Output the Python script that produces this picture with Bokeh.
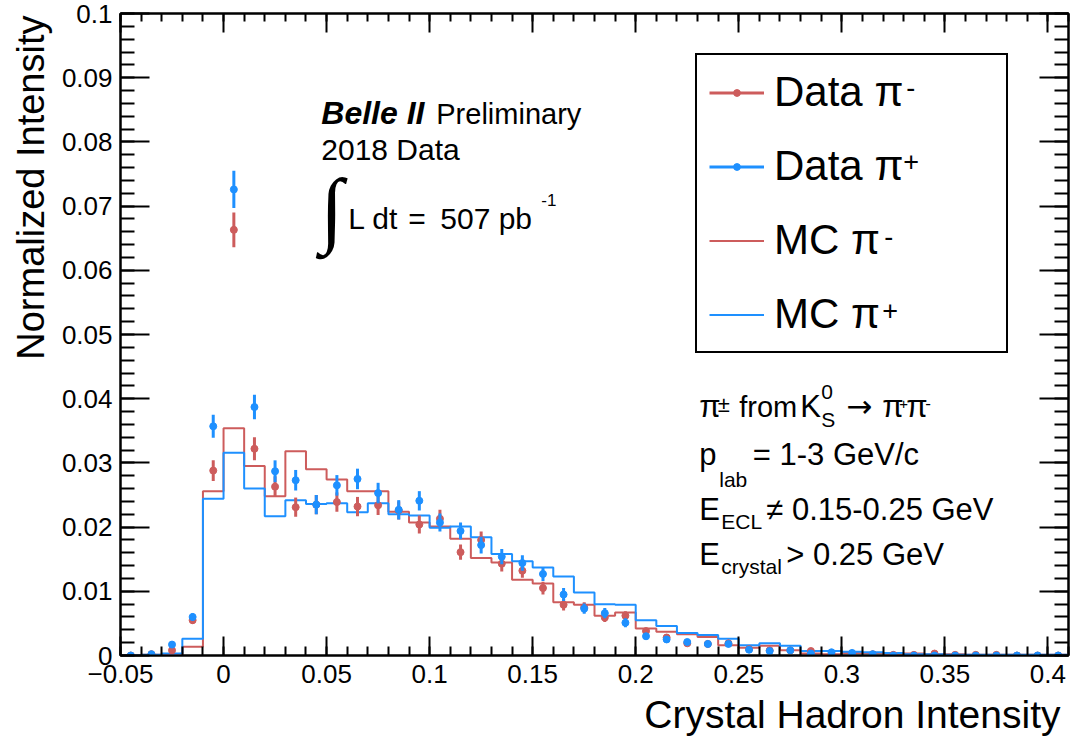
import math
import numpy as np
from bokeh.plotting import figure
from bokeh.models import (ColumnDataSource, FixedTicker, CustomJSTickFormatter,
                          LinearAxis, Label, Legend, LegendItem, Title)
from bokeh.core.properties import value
from bokeh.embed import file_html
from bokeh.resources import INLINE

# ---------------- data ----------------
bin_centers = [-0.045, -0.035, -0.025, -0.015, -0.005, 0.005, 0.015, 0.025, 0.035, 0.045,
               0.055, 0.065, 0.075, 0.085, 0.095, 0.105, 0.115, 0.125, 0.135, 0.145,
               0.155, 0.165, 0.175, 0.185, 0.195, 0.205, 0.215, 0.225, 0.235, 0.245,
               0.255, 0.265, 0.275, 0.285, 0.295, 0.305, 0.315, 0.325, 0.335, 0.345,
               0.355, 0.365, 0.375, 0.385, 0.395, 0.405]
bin_width = 0.01

data_pim = [0.0000, 0.0002, 0.0008, 0.0055, 0.0288, 0.0663, 0.0322, 0.0263, 0.0231, 0.0235,
            0.0239, 0.0232, 0.0234, 0.0226, 0.0204, 0.0213, 0.0161, 0.0180, 0.0143, 0.0132,
            0.0105, 0.0079, 0.0075, 0.0059, 0.0062, 0.0038, 0.0028, 0.0019, 0.0018, 0.0019,
            0.0010, 0.0008, 0.0008, 0.0007, 0.0002, 0.0003, 0.0002, 0.0001, 0.0001, 0.0003,
            0.0001, 0.0001, 0.0001, 0.0000, 0.0000, 0.0000]
data_pim_err = [0.0000, 0.0001, 0.0003, 0.0006, 0.0016, 0.0027, 0.0018, 0.0016, 0.0015, 0.0015,
                0.0015, 0.0015, 0.0015, 0.0014, 0.0014, 0.0014, 0.0012, 0.0013, 0.0012, 0.0011,
                0.0010, 0.0009, 0.0008, 0.0007, 0.0007, 0.0005, 0.0005, 0.0004, 0.0004, 0.0004,
                0.0003, 0.0003, 0.0003, 0.0002, 0.0001, 0.0002, 0.0001, 0.0001, 0.0001, 0.0002,
                0.0001, 0.0001, 0.0001, 0.0000, 0.0000, 0.0000]

data_pip = [0.0000, 0.0002, 0.0017, 0.0060, 0.0357, 0.0726, 0.0387, 0.0287, 0.0273, 0.0235,
            0.0265, 0.0275, 0.0253, 0.0227, 0.0241, 0.0207, 0.0194, 0.0172, 0.0154, 0.0144,
            0.0127, 0.0095, 0.0073, 0.0066, 0.0051, 0.0030, 0.0025, 0.0021, 0.0018, 0.0018,
            0.0009, 0.0007, 0.0008, 0.0003, 0.0005, 0.0004, 0.0002, 0.0000, 0.0000, 0.0000,
            0.0000, 0.0000, 0.0000, 0.0000, 0.0000, 0.0000]
data_pip_err = [0.0000, 0.0001, 0.0003, 0.0006, 0.0018, 0.0029, 0.0019, 0.0017, 0.0016, 0.0015,
                0.0016, 0.0016, 0.0016, 0.0015, 0.0015, 0.0014, 0.0013, 0.0013, 0.0012, 0.0012,
                0.0011, 0.0010, 0.0008, 0.0008, 0.0007, 0.0005, 0.0005, 0.0004, 0.0004, 0.0004,
                0.0003, 0.0003, 0.0003, 0.0002, 0.0002, 0.0002, 0.0001, 0.0000, 0.0000, 0.0000,
                0.0000, 0.0000, 0.0000, 0.0000, 0.0000, 0.0000]

mc_pim = [0.0000, 0.0001, 0.0002, 0.00135, 0.0256, 0.0354, 0.0295, 0.0248, 0.0318, 0.0290,
          0.0274, 0.0256, 0.0256, 0.0224, 0.0207, 0.0201, 0.0182, 0.0152, 0.0145, 0.0118,
          0.0112, 0.0083, 0.0079, 0.0062, 0.0067, 0.0042, 0.0037, 0.0033, 0.0029, 0.0016,
          0.0012, 0.0015, 0.0008, 0.0003, 0.0002, 0.0004, 0.0004, 0.0003, 0.0003, 0.0002,
          0.0002, 0.0001, 0.0001, 0.0001, 0.0001, 0.0001]
mc_pip = [0.0000, 0.0001, 0.0003, 0.0026, 0.0244, 0.0316, 0.0260, 0.0217, 0.0242, 0.0236,
          0.0237, 0.0223, 0.0237, 0.0220, 0.0218, 0.0199, 0.0201, 0.0184, 0.0158, 0.0147,
          0.0137, 0.0123, 0.0098, 0.0080, 0.0079, 0.0055, 0.0046, 0.0035, 0.0032, 0.0026,
          0.0016, 0.0019, 0.0015, 0.0007, 0.0007, 0.0006, 0.0005, 0.0004, 0.0002, 0.0002,
          0.0001, 0.0001, 0.0001, 0.0001, 0.0001, 0.0001]

x_tick_values = [-0.05, 0, 0.05, 0.1, 0.15, 0.2, 0.25, 0.3, 0.35, 0.4]
x_tick_labels = ["\u22120.05", "0", "0.05", "0.1", "0.15", "0.2", "0.25", "0.3", "0.35", "0.4"]
y_tick_values = [0, 0.01, 0.02, 0.03, 0.04, 0.05, 0.06, 0.07, 0.08, 0.09, 0.1]
y_tick_labels = ["0", "0.01", "0.02", "0.03", "0.04", "0.05", "0.06", "0.07", "0.08", "0.09", "0.1"]

series_labels = ["Data \u03c0", "Data \u03c0", "MC \u03c0", "MC \u03c0"]
series_charges = ["-", "+", "-", "+"]

RED = "#cd5c5c"
BLUE = "#1e90ff"
FONT = "Liberation Sans"

# ---------------- figure ----------------
p = figure(frame_width=948, frame_height=642, x_range=(-0.05, 0.41), y_range=(0, 0.1),
           output_backend="svg", toolbar_location=None, tools="",
           min_border_left=120, min_border_right=3, min_border_top=13, min_border_bottom=85,
           background_fill_color="white", border_fill_color="white",
           outline_line_color="black", outline_line_width=2)
p.xgrid.visible = False
p.ygrid.visible = False

x_minor = np.round(np.arange(-0.05, 0.4101, 0.01), 3).tolist()
y_minor = np.round(np.arange(0, 0.1001, 0.002), 4).tolist()

fmt_code = """
for (let i = 0; i < vals.length; i++) { if (Math.abs(vals[i] - tick) < 1e-9) return labs[i]; }
return "";
"""
xfmt = CustomJSTickFormatter(args=dict(vals=x_tick_values, labs=x_tick_labels), code=fmt_code)
yfmt = CustomJSTickFormatter(args=dict(vals=y_tick_values, labs=y_tick_labels), code=fmt_code)


def style_axis(ax, major_in, minor_in, labels=True):
    ax.axis_line_color = "black"
    ax.axis_line_width = 2
    ax.major_tick_line_color = "black"
    ax.minor_tick_line_color = "black"
    ax.major_tick_line_width = 2
    ax.minor_tick_line_width = 2
    ax.major_tick_in = major_in
    ax.major_tick_out = 0
    ax.minor_tick_in = minor_in
    ax.minor_tick_out = 0
    if labels:
        ax.major_label_text_font = FONT
        ax.major_label_text_font_size = "26px"
        ax.major_label_text_color = "black"
    else:
        ax.major_label_text_font_size = "0px"
        ax.major_label_standoff = 0


xax = p.xaxis[0]
xax.ticker = FixedTicker(ticks=x_tick_values, minor_ticks=x_minor)
xax.formatter = xfmt
style_axis(xax, 19, 9)
xax.major_label_standoff = 9

yax = p.yaxis[0]
yax.ticker = FixedTicker(ticks=y_tick_values, minor_ticks=y_minor)
yax.formatter = yfmt
style_axis(yax, 29, 14)
yax.major_label_standoff = 8

top_ax = LinearAxis(ticker=FixedTicker(ticks=x_tick_values, minor_ticks=x_minor),
                    formatter=CustomJSTickFormatter(code="return '';"))
style_axis(top_ax, 19, 8, labels=False)
p.add_layout(top_ax, "above")

right_ax = LinearAxis(ticker=FixedTicker(ticks=y_tick_values, minor_ticks=y_minor),
                      formatter=CustomJSTickFormatter(code="return '';"))
style_axis(right_ax, 29, 14, labels=False)
p.add_layout(right_ax, "right")

# axis titles (ROOT style: right / top aligned)
x_title = Title(text="Crystal Hadron Intensity", align="right", text_font=FONT,
                text_font_size="39px", text_font_style="normal", text_color="black",
                offset=8, standoff=10)
p.add_layout(x_title, "below")
y_title = Title(text="Normalized Intensity", align="right", text_font=FONT,
                text_font_size="38px", text_font_style="normal", text_color="black",
                offset=2, standoff=13)
p.add_layout(y_title, "left")

# ---------------- glyphs ----------------
edges = [c - bin_width / 2 for c in bin_centers] + [bin_centers[-1] + bin_width / 2]

mc_r = p.step(x=edges, y=mc_pim + [mc_pim[-1]], mode="after", line_color=RED, line_width=2)
mc_b = p.step(x=edges, y=mc_pip + [mc_pip[-1]], mode="after", line_color=BLUE, line_width=2)


def data_source(vals, errs):
    return ColumnDataSource(dict(
        x=bin_centers, y=vals,
        lo=[v - e for v, e in zip(vals, errs)],
        hi=[v + e for v, e in zip(vals, errs)]))


src_m = data_source(data_pim, data_pim_err)
src_p = data_source(data_pip, data_pip_err)

seg_m = p.segment(x0="x", y0="lo", x1="x", y1="hi", source=src_m, line_color=RED, line_width=3)
dot_m = p.scatter(x="x", y="y", source=src_m, size=7, marker="circle",
                  fill_color=RED, line_color=RED)
seg_p = p.segment(x0="x", y0="lo", x1="x", y1="hi", source=src_p, line_color=BLUE, line_width=3)
dot_p = p.scatter(x="x", y="y", source=src_p, size=7, marker="circle",
                  fill_color=BLUE, line_color=BLUE)

# ---------------- legend ----------------
legend = Legend(items=[
    LegendItem(label=value(series_labels[0]), renderers=[seg_m, dot_m]),
    LegendItem(label=value(series_labels[1]), renderers=[seg_p, dot_p]),
    LegendItem(label=value(series_labels[2]), renderers=[mc_r]),
    LegendItem(label=value(series_labels[3]), renderers=[mc_b]),
], location=(575, 302), orientation="vertical",
    label_text_font=FONT, label_text_font_size="42px", label_text_color="black",
    glyph_width=55, glyph_height=17, label_standoff=10, label_width=220, label_height=50,
    spacing=24, padding=12, margin=0,
    border_line_color="black", border_line_width=2, border_line_alpha=1.0,
    background_fill_alpha=0.0)
p.add_layout(legend, "center")


# ---------------- text ----------------
def X(px):
    return -0.05 + (px - 120.2) / 2061.0


def Y(py):
    return (654.5 - py) / 6416.0


def add_text(txt, px, base_py, size, style="normal", font=FONT, raw=False):
    # base_py: baseline position (ref pixels); anchor is placed at cap centre
    anchor = base_py if raw else base_py - 0.36 * size
    p.add_layout(Label(x=X(px), y=Y(anchor), text=txt, text_font=font,
                       text_font_size=f"{size}px", text_font_style=style,
                       text_align="left", text_baseline="alphabetic", text_color="black"))


# legend superscripts
row_centers = [92.7, 167.0, 241.0, 315.0]
sup_x = [906, 903, 884, 882]
for c, sx, ch in zip(row_centers, sup_x, series_charges):
    add_text(ch, sx, c + 4, 27)

# Belle II block
add_text("Belle II", 321, 124, 32, style="bold italic")
add_text("Preliminary", 436, 124, 29)
add_text("2018 Data", 321, 160, 30)
add_text("\u222b", 320, 208, 84, font="Liberation Serif", raw=True)
add_text("L dt", 348, 228.3, 30)
add_text("=", 408, 228.3, 30)
add_text("507 pb", 440, 228.3, 30)
add_text("-1", 541, 205, 17)

# selection block
add_text("\u03c0", 699, 416.7, 31)
add_text("\u00b1", 717.5, 411.7, 22)
add_text("from", 739, 416.7, 29)
add_text("K", 800, 416.7, 31)
add_text("0", 821, 398.3, 21)
add_text("S", 821, 426.7, 21)
add_text("\u2192", 846, 416.7, 31, font="DejaVu Sans")
add_text("\u03c0", 882, 416.7, 31)
add_text("+", 899, 409, 15)
add_text("\u03c0", 906, 416.7, 31)
add_text("-", 925, 408, 17)

add_text("p", 699, 465, 31)
add_text("lab", 719, 486, 21)
add_text("= 1-3 GeV/c", 752.5, 465, 31)

add_text("E", 699, 520, 31)
add_text("ECL", 721, 527.7, 21)
add_text("\u2260 0.15-0.25 GeV", 766, 520, 31)

add_text("E", 699, 565, 31)
add_text("crystal", 721, 572.7, 21)
add_text("> 0.25 GeV", 786, 565, 31)

open("out.html", "w").write(file_html(p, INLINE))
